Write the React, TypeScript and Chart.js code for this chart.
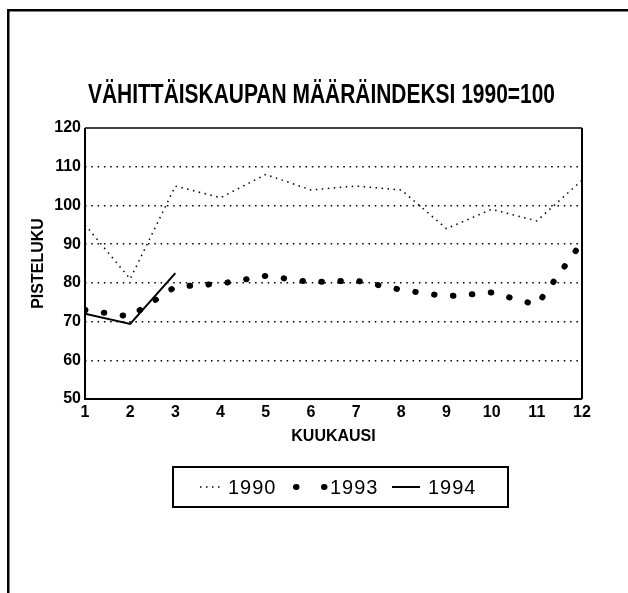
import { useEffect, useRef } from "react";
import { Chart, registerables } from "chart.js";

Chart.register(...registerables);

const chartTitle = "VÄHITTÄISKAUPAN MÄÄRÄINDEKSI 1990=100";
const xAxisTitle = "KUUKAUSI";
const yAxisTitle = "PISTELUKU";
const months = [1, 2, 3, 4, 5, 6, 7, 8, 9, 10, 11, 12];
const seriesLabels = ["1990", "1993", "1994"];
const values1990 = [95, 81, 105, 102, 108, 104, 105, 104, 94, 99, 96, 106.5];
const values1993 = [73, 71.3, 79, 79.8, 81.8, 80.2, 80.6, 78.2, 76.5, 77.5, 74.3, 90.5];
const values1994 = [72, 69.4, 82.5];
const yMin = 50;
const yMax = 120;
const yStep = 10;

const FAMILY = '"Liberation Sans", Arial, Helvetica, sans-serif';
const TICK_FONT = { family: FAMILY, size: 16, weight: "bold" as const };
const AXIS_TITLE_FONT = { family: FAMILY, size: 16, weight: "bold" as const, lineHeight: 1.2 };

export default function App() {
  const ref = useRef<HTMLCanvasElement>(null);

  useEffect(() => {
    const canvas = ref.current;
    if (!canvas) return;

    const decor = {
      id: "decor",
      beforeDraw(chart: any) {
        const { ctx, width, height } = chart;
        ctx.save();
        ctx.fillStyle = "#fff";
        ctx.fillRect(0, 0, width, height);
        ctx.fillStyle = "#000";
        ctx.fillRect(7, 9, 2.5, height - 9);
        ctx.fillRect(7, 9, width - 7, 2.5);
        ctx.restore();
      },
      beforeDatasetsDraw(chart: any) {
        const { ctx, chartArea: a } = chart;
        ctx.save();
        ctx.strokeStyle = "#000";
        ctx.lineWidth = 1.5;
        ctx.beginPath();
        ctx.moveTo(a.left, a.top);
        ctx.lineTo(a.right, a.top);
        ctx.stroke();
        ctx.lineWidth = 2;
        ctx.beginPath();
        ctx.moveTo(a.right, a.top);
        ctx.lineTo(a.right, a.bottom);
        ctx.stroke();
        ctx.beginPath();
        ctx.moveTo(a.left, a.top);
        ctx.lineTo(a.left, a.bottom);
        ctx.lineTo(a.right, a.bottom);
        ctx.stroke();
        ctx.restore();
      },
      afterDraw(chart: any) {
        const { ctx } = chart;
        ctx.save();
        // title, condensed to the reference width
        ctx.fillStyle = "#000";
        ctx.font = "bold 27px " + FAMILY;
        ctx.textAlign = "center";
        ctx.textBaseline = "middle";
        const w = ctx.measureText(chartTitle).width;
        const sx = Math.min(1, 467 / w);
        ctx.save();
        ctx.translate(321.5, 96);
        ctx.scale(sx, 1);
        ctx.fillText(chartTitle, 0, 0);
        ctx.restore();

        // legend
        const boxL = 173, boxR = 508, boxT = 467, boxB = 507;
        ctx.lineWidth = 2;
        ctx.strokeStyle = "#000";
        ctx.strokeRect(boxL, boxT, boxR - boxL, boxB - boxT);
        const cy = (boxT + boxB) / 2;
        ctx.font = '20px ' + FAMILY;
        (ctx as any).letterSpacing = "1px";
        ctx.textAlign = "left";
        const samples = [
          { x0: 200, x1: 222, dash: [1.5, 4.5], width: 1.5, cap: "butt", tx: 228 },
          { x0: 296, x1: 325, dash: [0.5, 27.5], width: 6, cap: "round", tx: 330 },
          { x0: 392, x1: 420, dash: [], width: 2, cap: "butt", tx: 428 },
        ];
        chart.data.datasets.forEach((ds: any, i: number) => {
          const s = samples[i];
          ctx.beginPath();
          ctx.setLineDash(s.dash);
          ctx.lineCap = s.cap;
          ctx.lineWidth = s.width;
          ctx.moveTo(s.x0, cy);
          ctx.lineTo(s.x1, cy);
          ctx.stroke();
          ctx.setLineDash([]);
          ctx.fillText(ds.label, s.tx, cy + 1);
        });
        ctx.restore();
      },
    };

    const toPoints = (vals: number[]) => vals.map((v, i) => ({ x: months[i], y: v }));

    const chart = new Chart(canvas, {
      type: "line",
      data: {
        datasets: [
          {
            label: seriesLabels[0],
            data: toPoints(values1990),
            borderColor: "#000",
            borderWidth: 1.5,
            borderDash: [1.5, 4.5],
            pointRadius: 0,
            tension: 0,
            fill: false,
          },
          {
            label: seriesLabels[1],
            data: toPoints(values1993),
            borderColor: "#000",
            borderWidth: 6,
            borderDash: [0.5, 18.5],
            borderCapStyle: "round",
            pointRadius: 0,
            tension: 0,
            fill: false,
          },
          {
            label: seriesLabels[2],
            data: toPoints(values1994),
            borderColor: "#000",
            borderWidth: 2,
            pointRadius: 0,
            tension: 0,
            fill: false,
          },
        ],
      },
      options: {
        responsive: false,
        animation: false,
        devicePixelRatio: 1,
        layout: { padding: { top: 128, left: 8, right: 46, bottom: 146.4 } },
        plugins: {
          legend: { display: false },
          title: { display: false },
          tooltip: { enabled: false },
        },
        scales: {
          x: {
            type: "linear",
            min: months[0],
            max: months[months.length - 1],
            afterBuildTicks: (scale: any) => {
              scale.ticks = months.map((m) => ({ value: m }));
            },
            ticks: {
              color: "#000",
              font: TICK_FONT,
              padding: 4,
              maxRotation: 0,
              autoSkip: false,
              callback: (v: any) => String(v),
            },
            grid: { display: false, drawTicks: false },
            border: { display: false },
            title: {
              display: true,
              text: xAxisTitle,
              color: "#000",
              font: AXIS_TITLE_FONT,
              padding: { top: 0, bottom: 0 },
            },
            afterFit: (scale: any) => {
              scale.height = 47.6;
            },
          },
          y: {
            min: yMin,
            max: yMax,
            ticks: {
              stepSize: yStep,
              color: "#000",
              font: TICK_FONT,
              padding: 4,
            },
            grid: {
              drawTicks: false,
              lineWidth: 1.5,
              color: (c: any) =>
                c.tick && (c.tick.value === yMin || c.tick.value === yMax) ? "rgba(0,0,0,0)" : "#000",
            },
            border: { display: false, dash: [1.5, 4.8] },
            title: {
              display: true,
              text: yAxisTitle,
              color: "#000",
              font: AXIS_TITLE_FONT,
              padding: { top: 21.4, bottom: 0 },
            },
            afterFit: (scale: any) => {
              scale.width = 77;
            },
          },
        },
      },
      plugins: [decor],
    });

    return () => chart.destroy();
  }, []);

  return (
    <canvas
      ref={ref}
      width={628}
      height={593}
      style={{ position: "fixed", left: 0, top: 0, width: 628, height: 593, display: "block" }}
    />
  );
}
